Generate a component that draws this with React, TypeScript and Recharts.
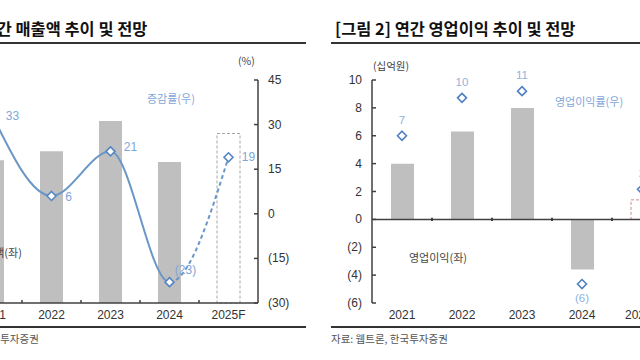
import React from "react";
import {
  ComposedChart,
  Bar,
  Line,
  XAxis,
  YAxis,
  Cell,
  LabelList,
  ReferenceLine,
} from "recharts";

// 연도
const years = ["2021", "2022", "2023", "2024", "2025F"];
// [그림 1] 매출액 (십억원, 그림에서 읽은 추정치) / 증감률 (%)
const sales = [160, 170, 204, 158, 190];
const salesGrowth = [33, 6, 21, -23, 19];
// [그림 2] 영업이익 (십억원) / 영업이익률 (%)
const opProfit = [4.0, 6.3, 8.0, -3.6, 1.4];
const opMargin = [7.0, 10.4, 11.0, -6.3, 2.2];

const growthTicks = [-30, -15, 0, 15, 30, 45];
const profitTicks = [-6, -4, -2, 0, 2, 4, 6, 8, 10];
const bandEdges = [1, 2, 3, 4];

const FORECAST = 4;
const KR = '"Noto Sans CJK KR", "Noto Sans", sans-serif';
const NUM = '"Liberation Sans", Arial, sans-serif';
const AXIS = "#404040";
const BAR = "#bfbfbf";
const LINE = "#6b97c6";
const MARK = "#5686c2";
const LABEL = "#7fa6d8";

const fmt = (v: number) => (v < 0 ? `(${Math.abs(Math.round(v))})` : `${Math.round(v)}`);

const salesData = years.map((year, i) => ({ year, sales: sales[i], growth: salesGrowth[i] }));
const profitData = years.map((year, i) => ({ year, profit: opProfit[i], margin: opMargin[i] }));

// monotone curve drawn only between two point indexes (keeps tangents of the whole series)
function monotoneRange(from: number, to: number) {
  return (ctx: any) => {
    let xs: number[] = [];
    let ys: number[] = [];
    return {
      areaStart() {},
      areaEnd() {},
      lineStart() {
        xs = [];
        ys = [];
      },
      point(x: number, y: number) {
        xs.push(+x);
        ys.push(+y);
      },
      lineEnd() {
        const n = xs.length;
        if (n < 2) return;
        const sgn = (v: number) => (v < 0 ? -1 : 1);
        const t: number[] = new Array(n).fill(0);
        for (let i = 1; i < n - 1; i++) {
          const h0 = xs[i] - xs[i - 1];
          const h1 = xs[i + 1] - xs[i];
          const s0 = (ys[i] - ys[i - 1]) / h0;
          const s1 = (ys[i + 1] - ys[i]) / h1;
          const p = (s0 * h1 + s1 * h0) / (h0 + h1);
          t[i] = (sgn(s0) + sgn(s1)) * Math.min(Math.abs(s0), Math.abs(s1), 0.5 * Math.abs(p)) || 0;
        }
        t[0] = (3 * (ys[1] - ys[0]) / (xs[1] - xs[0]) - t[1]) / 2;
        t[n - 1] = (3 * (ys[n - 1] - ys[n - 2]) / (xs[n - 1] - xs[n - 2]) - t[n - 2]) / 2;
        const a = Math.max(0, from);
        const b = Math.min(n - 1, to);
        ctx.moveTo(xs[a], ys[a]);
        for (let i = a; i < b; i++) {
          const dx = (xs[i + 1] - xs[i]) / 3;
          ctx.bezierCurveTo(
            xs[i] + dx, ys[i] + dx * t[i],
            xs[i + 1] - dx, ys[i + 1] - dx * t[i + 1],
            xs[i + 1], ys[i + 1]
          );
        }
      },
    };
  };
}
const actualCurve = monotoneRange(0, 3);
const forecastCurve = monotoneRange(3, 4);

const diamond = (stroke: string) => (props: any) => {
  const { cx, cy, index } = props;
  if (cx == null || cy == null) return <g key={`d${index}`} />;
  const r = 4.5;
  return (
    <path
      key={`d${index}`}
      d={`M${cx},${cy - r}L${cx + r},${cy}L${cx},${cy + r}L${cx - r},${cy}Z`}
      fill="#fff"
      stroke={stroke}
      strokeWidth={1.6}
    />
  );
};

const growthOffsets: Record<number, [number, number]> = {
  0: [20, 0],
  1: [17, 1],
  2: [20, -4],
  3: [16, -12],
  4: [20, 0],
};
const GrowthLabel = (props: any) => {
  const { x, y, value, index } = props;
  if (value == null) return null;
  const [dx, dy] = growthOffsets[index] || [18, 0];
  return (
    <text x={x + dx} y={y + dy} textAnchor="middle" dominantBaseline="central" fontSize={12} fontFamily={NUM} fill={LABEL}>
      {fmt(value)}
    </text>
  );
};

const MarginLabel = (props: any) => {
  const { x, y, value } = props;
  if (value == null) return null;
  const dy = value < 0 ? 14 : -16;
  return (
    <text x={x} y={y + dy} textAnchor="middle" dominantBaseline="central" fontSize={11.5} fontFamily={NUM} fill="#8fb2dc">
      {fmt(value)}
    </text>
  );
};

// y-axis tick with the mark pointing into the plot
const yTick = (side: "left" | "right") => (props: any) => {
  const { x, y, payload } = props;
  const axisX = side === "right" ? x - 10 : x + 10;
  const inner = side === "right" ? axisX - 4 : axisX + 4;
  return (
    <g>
      <line x1={axisX} y1={y} x2={inner} y2={y} stroke={AXIS} strokeWidth={1.5} />
      <text x={x} y={y} textAnchor={side === "right" ? "start" : "end"} dominantBaseline="central" fontSize={12} fontFamily={NUM} fill="#333">
        {fmt(payload.value)}
      </text>
    </g>
  );
};

const xTickStyle = { fontSize: 12, fill: "#333", fontFamily: NUM };

const text = (s: string, left: number, top: number, style: React.CSSProperties = {}) => (
  <div style={{ position: "absolute", left, top, whiteSpace: "nowrap", lineHeight: 1, fontFamily: KR, ...style }}>{s}</div>
);
const rule = (left: number, top: number, width: number) => (
  <div style={{ position: "absolute", left, top, width, height: 2, background: "#333" }} />
);

function SalesChart() {
  return (
    <div style={{ position: "absolute", left: -37, top: 0 }}>
      <ComposedChart width={345} height={333} data={salesData} margin={{ top: 80, right: 0, bottom: 0, left: 0 }}>
        <XAxis dataKey="year" axisLine={{ stroke: AXIS, strokeWidth: 1.5 }} tickLine={false} tickSize={0} tickMargin={7} tick={xTickStyle} height={30} />
        <XAxis xAxisId="n" type="number" dataKey="idx" domain={[0, 5]} allowDataOverflow hide />
        <YAxis yAxisId="s" domain={[0, 250]} hide />
        <YAxis
          yAxisId="g"
          orientation="right"
          domain={[-30, 45]}
          ticks={growthTicks}
          width={50}
          axisLine={{ stroke: AXIS, strokeWidth: 1.5 }}
          tickLine={false}
          tickSize={0}
          tickMargin={10}
          tick={yTick("right")}
          interval={0}
        />
        <Bar yAxisId="s" dataKey="sales" barSize={23} isAnimationActive={false}>
          {salesData.map((_, i) => (
            <Cell
              key={i}
              fill={i === FORECAST ? "#fff" : BAR}
              stroke={i === FORECAST ? "#a6a6a6" : "none"}
              strokeDasharray={i === FORECAST ? "3 2" : undefined}
            />
          ))}
        </Bar>
        {bandEdges.map((e) => (
          <ReferenceLine key={e} xAxisId="n" yAxisId="g" segment={[{ x: e, y: -30 }, { x: e, y: -29 }]} stroke={AXIS} strokeWidth={1.5} />
        ))}
        <Line yAxisId="g" dataKey="growth" type={actualCurve as any} stroke={LINE} strokeWidth={2} dot={false} isAnimationActive={false} />
        <Line
          yAxisId="g"
          dataKey="growth"
          type={forecastCurve as any}
          stroke={LINE}
          strokeWidth={2}
          strokeDasharray="4 3"
          dot={diamond(MARK)}
          isAnimationActive={false}
        >
          <LabelList dataKey="growth" content={GrowthLabel} />
        </Line>
      </ComposedChart>
    </div>
  );
}

function ProfitChart() {
  return (
    <div style={{ position: "absolute", left: 332, top: 0 }}>
      <ComposedChart width={340} height={333} data={profitData} margin={{ top: 80, right: 0, bottom: 0, left: 0 }}>
        <XAxis dataKey="year" axisLine={false} tickLine={false} tickSize={0} tickMargin={7} tick={xTickStyle} height={30} />
        <XAxis xAxisId="n" type="number" dataKey="idx" domain={[0, 5]} allowDataOverflow hide />
        <YAxis
          yAxisId="p"
          domain={[-6, 10]}
          ticks={profitTicks}
          width={40}
          axisLine={{ stroke: AXIS, strokeWidth: 1.5 }}
          tickLine={false}
          tickSize={0}
          tickMargin={10}
          tick={yTick("left")}
          interval={0}
        />
        <YAxis yAxisId="m" orientation="right" domain={[-8, 12]} hide />
        <Bar yAxisId="p" dataKey="profit" barSize={23} isAnimationActive={false}>
          {profitData.map((_, i) => (
            <Cell
              key={i}
              fill={i === FORECAST ? "#fff" : BAR}
              stroke={i === FORECAST ? "#d08a8a" : "none"}
              strokeDasharray={i === FORECAST ? "3 2" : undefined}
            />
          ))}
        </Bar>
        <ReferenceLine yAxisId="p" y={0} stroke={AXIS} strokeWidth={1.5} />
        {bandEdges.map((e) => (
          <ReferenceLine key={e} xAxisId="n" yAxisId="p" segment={[{ x: e, y: 0.12 }, { x: e, y: -0.12 }]} stroke={AXIS} strokeWidth={2} />
        ))}
        <Line yAxisId="m" dataKey="margin" stroke="none" dot={diamond("#4f80c0")} isAnimationActive={false}>
          <LabelList dataKey="margin" content={MarginLabel} />
        </Line>
      </ComposedChart>
    </div>
  );
}

export default function App() {
  return (
    <div style={{ position: "fixed", left: 0, top: 0, width: 640, height: 360, overflow: "hidden", background: "#fff" }}>
      {text("[그림 1] 연간 매출액 추이 및 전망", -78, 20, { fontSize: 16.4, fontWeight: 700, color: "#111" })}
      {text("[그림 2] 연간 영업이익 추이 및 전망", 335, 20, { fontSize: 16.4, fontWeight: 700, color: "#111" })}
      {rule(-78, 42, 384)}
      {rule(331, 42, 384)}

      <SalesChart />
      <ProfitChart />

      {text("(십억원)", -36, 61, { fontSize: 10.5, color: "#444" })}
      {text("(%)", 238, 56, { fontSize: 10.5, color: "#444" })}
      {text("(십억원)", 373, 61, { fontSize: 10.5, color: "#444" })}

      {text("증감률(우)", 147, 93, { fontSize: 11, color: LABEL })}
      {text("매출액(좌)", -26, 247, { fontSize: 11, color: "#444" })}
      {text("영업이익률(우)", 555, 96, { fontSize: 11, color: LABEL })}
      {text("영업이익(좌)", 409, 252, { fontSize: 11, color: "#444" })}

      {rule(-78, 326, 384)}
      {rule(331, 326, 384)}
      {text("자료: 웹트론, 한국투자증권", -78, 334, { fontSize: 10.5, color: "#555" })}
      {text("자료: 웹트론, 한국투자증권", 331, 334, { fontSize: 10.5, color: "#555" })}
    </div>
  );
}
